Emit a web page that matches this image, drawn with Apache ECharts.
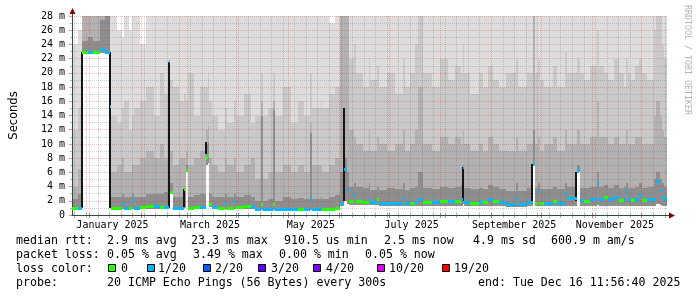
<!DOCTYPE html>
<html><head><meta charset="utf-8">
<script src="https://cdn.jsdelivr.net/npm/echarts@6/dist/echarts.min.js"></script>
<style>html,body{margin:0;padding:0;background:#fff}#c{width:697px;height:297px}</style>
</head><body><div id="c"></div>
<script>
// ---- time axis: days since graph start (Dec 21 2024 11:56:40), 360-day window
const SPAN = 360;
const Y_MAX = 28;

// ---- sample positions (days since start)
const days = [0.0, 3.6, 6.0, 9.6, 12.6, 16.8, 19.8, 22.8, 23.7, 27.0,
  30.0, 31.2, 34.2, 36.6, 37.8, 41.4, 45.0, 49.8, 53.4, 55.8,
  58.5, 59.4, 60.9, 64.8, 67.8, 68.7, 69.9, 73.8, 77.4, 81.0,
  82.2, 83.1, 84.6, 88.2, 92.4, 93.6, 97.8, 99.0, 103.8, 108.0,
  111.0, 114.6, 115.5, 118.8, 121.8, 122.7, 127.8, 132.6, 136.8, 140.4,
  144.3, 145.2, 150.6, 151.5, 155.4, 159.0, 162.0, 164.4, 166.2, 167.4,
  170.4, 171.6, 175.8, 179.4, 180.6, 184.8, 186.0, 190.8, 195.6, 200.4,
  201.6, 204.6, 207.6, 209.4, 212.4, 217.8, 222.6, 227.4, 231.6, 235.2,
  236.4, 237.3, 240.6, 246.0, 248.4, 251.4, 255.0, 258.6, 262.8, 268.8,
  270.0, 275.4, 278.7, 280.2, 282.0, 282.9, 285.6, 291.0, 293.4, 298.5,
  299.4, 305.4, 306.6, 307.5, 309.6, 313.2, 317.7, 318.6, 321.6, 324.6,
  328.2, 331.2, 334.2, 335.4, 336.6, 338.4, 340.8, 343.2, 345.0, 348.0,
  352.2, 353.4, 355.8, 357.0, 358.2];

// ---- median rtt (ms)
const medianMs = [1.0, 1.0, 23.0, 23.0, 23.0, 23.3, 23.0, 15.3, 1.0, 1.0,
  1.7, 1.0, 1.0, 2.1, 1.0, 1.1, 1.2, 1.2, 1.1, 1.1,
  21.7, 3.2, 1.0, 1.0, 3.7, 6.4, 1.0, 1.1, 1.1, 8.1,
  8.5, 1.6, 1.1, 1.0, 1.7, 1.0, 2.0, 1.1, 1.2, 1.2,
  0.85, 1.5, 0.85, 0.85, 1.5, 0.85, 0.85, 0.85, 0.9, 0.9,
  2.25, 0.85, 1.5, 0.9, 0.9, 1.0, 1.7, 6.5, 3.6, 2.0,
  2.8, 1.9, 1.8, 2.3, 1.8, 2.2, 1.7, 1.7, 1.7, 2.4,
  1.7, 1.7, 1.8, 2.2, 1.8, 1.8, 1.9, 1.9, 2.0, 2.2,
  6.75, 1.8, 1.7, 1.8, 1.8, 2.3, 2.0, 1.8, 1.55, 2.4,
  1.6, 1.8, 7.2, 1.7, 3.4, 1.7, 1.7, 1.9, 1.7, 3.1,
  2.4, 6.2, 6.45, 2.1, 2.0, 2.2, 4.5, 2.2, 2.6, 2.2,
  2.6, 2.1, 2.2, 3.4, 2.2, 2.1, 2.2, 2.8, 2.1, 2.2,
  2.2, 4.8, 3.5, 2.6, 2.3];

// ---- lost pings out of 20
const lossCount = [0, 1, 0, 1, 0, 1, 1, 1, 0, 0,
  1, 1, 0, 1, 1, 0, 0, 1, 0, 1,
  1, 0, 1, 1, 0, 0, 0, 0, 1, 0,
  0, 0, 1, 0, 1, 0, 1, 0, 0, 1,
  1, 0, 1, 1, 0, 1, 1, 1, 0, 1,
  1, 1, 1, 0, 0, 0, 1, 1, 1, 0,
  1, 0, 0, 1, 1, 0, 1, 1, 1, 1,
  1, 0, 1, 1, 0, 1, 0, 1, 0, 1,
  1, 1, 0, 1, 0, 1, 0, 1, 1, 1,
  1, 1, 1, 0, 1, 0, 1, 0, 1, 1,
  1, 1, 1, 1, 0, 1, 1, 1, 0, 1,
  1, 0, 1, 1, 1, 0, 1, 1, 0, 1,
  1, 1, 1, 1, 1];

// ---- smoke: lowest ping and band upper edges (ms)
const smokeLow = [0.8, 0.8, 22.6, 22.6, 22.6, 22.8, 22.7, 1.0, 0.8, 0.8,
  0.8, 0.8, 0.8, 0.8, 0.8, 0.8, 0.9, 0.9, 0.9, 0.9,
  1.0, 3.0, 0.8, 0.8, 1.0, 6.0, 0.8, 0.8, 0.8, 7.0,
  7.3, 1.1, 0.8, 0.8, 0.8, 0.8, 0.8, 0.8, 0.8, 0.8,
  0.6, 0.7, 0.6, 0.6, 0.7, 0.6, 0.6, 0.6, 0.6, 0.6,
  0.7, 0.6, 0.6, 0.6, 0.6, 0.7, 1.2, 2.0, 1.5, 1.4,
  1.4, 1.4, 1.4, 1.4, 1.4, 1.4, 1.3, 1.3, 1.3, 1.3,
  1.3, 1.3, 1.3, 1.3, 1.3, 1.3, 1.3, 1.3, 1.3, 1.3,
  1.5, 1.3, 1.2, 1.2, 1.2, 1.2, 1.2, 1.2, 1.1, 1.1,
  1.1, 1.2, 7.0, 1.2, 1.3, 1.2, 1.2, 1.2, 1.2, 1.3,
  1.3, 5.9, 6.0, 1.3, 1.3, 1.3, 1.4, 1.3, 1.3, 1.3,
  1.3, 1.3, 1.3, 1.3, 1.3, 1.3, 1.3, 1.3, 1.3, 1.3,
  1.3, 1.5, 1.4, 1.3, 1.3];
const smokeDark = [2.2, 3.0, 24.5, 25.0, 24.5, 27.5, 30.0, 3.0, 2.5, 2.5,
  3.0, 2.5, 2.5, 3.0, 2.6, 2.5, 3.0, 3.0, 3.0, 3.2,
  4.0, 4.5, 2.5, 2.6, 3.7, 7.0, 2.5, 2.8, 3.0, 10.0,
  10.3, 3.0, 2.5, 2.6, 3.0, 2.5, 3.0, 2.5, 2.8, 2.6,
  2.0, 14.0, 2.0, 2.2, 14.8, 2.0, 2.5, 2.2, 2.4, 2.2,
  11.5, 2.3, 2.5, 2.3, 2.5, 2.8, 6.0, 8.0, 6.0, 4.0,
  4.5, 4.0, 3.8, 4.5, 3.5, 4.0, 3.5, 3.8, 3.6, 4.5,
  3.5, 3.8, 4.0, 6.0, 3.8, 3.6, 4.0, 3.8, 4.0, 4.2,
  7.0, 3.8, 3.6, 3.8, 3.6, 4.2, 4.0, 3.6, 3.4, 4.5,
  3.4, 3.8, 12.0, 3.8, 4.5, 3.6, 3.6, 4.0, 3.6, 4.5,
  4.0, 7.0, 7.0, 3.8, 3.8, 4.0, 6.0, 4.0, 4.2, 3.8,
  4.2, 3.8, 4.0, 4.5, 3.8, 3.8, 4.0, 4.5, 3.8, 4.0,
  5.0, 6.0, 5.0, 4.5, 4.0];
const smokeDarkMid = [4, 6.5, 30, 30, 30, 30, 30, 6, 6, 7,
  8, 6, 6, 7, 7, 8, 9, 8, 10, 8,
  9, 9, 7, 8, 8, 9, 7, 8, 9, 12,
  12.5, 8, 7, 6, 8, 7, 8, 6, 7, 8,
  5, 16, 5, 6, 16, 6, 7, 6, 7, 6,
  13, 7, 7, 6, 7, 8, 30, 30, 30, 12,
  11, 10, 9, 12, 9, 11, 10, 9, 10, 12,
  9, 10, 12, 18, 10, 9, 11, 10, 11, 10,
  12, 10, 9, 10, 9, 11, 10, 9, 9, 11,
  9, 10, 30, 10, 11, 9, 10, 11, 9, 12,
  10, 12, 12, 10, 10, 11, 16, 11, 11, 10,
  11, 10, 10, 12, 10, 10, 11, 11, 10, 10,
  14, 16, 14, 12, 11];
const smokeMid = [12, 15, 30, 30, 30, 30, 30, 14, 14, 13,
  15, 16, 12, 14, 15, 16, 18, 14, 20, 17,
  18, 19, 18, 16, 17, 16, 20, 14, 18, 18,
  20, 16, 14, 12, 15, 13, 16, 14, 17, 13,
  14, 20, 14, 15, 20, 14, 18, 13, 16, 14,
  20, 15, 16, 15, 17, 18, 30, 30, 30, 22,
  24, 20, 18, 22, 19, 21, 18, 20, 17, 22,
  18, 20, 24, 30, 20, 18, 22, 19, 21, 20,
  24, 20, 17, 20, 18, 21, 19, 18, 20, 22,
  18, 20, 30, 20, 22, 19, 18, 21, 18, 23,
  20, 22, 22, 20, 19, 21, 26, 21, 20, 19,
  22, 20, 18, 22, 20, 19, 21, 22, 20, 19,
  26, 30, 28, 24, 22];
const smokeHigh = [24, 26, 30, 30, 30, 30, 30, 30, 30, 26,
  25, 30, 26, 30, 30, 24, 30, 30, 30, 30,
  30, 30, 30, 30, 30, 30, 30, 30, 30, 30,
  30, 30, 30, 30, 30, 30, 30, 30, 30, 30,
  30, 30, 30, 30, 30, 30, 30, 30, 30, 30,
  30, 30, 30, 30, 27, 30, 30, 30, 30, 30,
  30, 30, 30, 30, 30, 30, 30, 30, 30, 30,
  30, 30, 30, 30, 30, 30, 30, 30, 30, 30,
  30, 30, 28, 30, 30, 30, 30, 30, 30, 30,
  30, 30, 30, 30, 30, 30, 30, 30, 30, 30,
  30, 30, 30, 30, 30, 30, 30, 30, 30, 30,
  30, 30, 30, 30, 30, 30, 30, 30, 30, 30,
  30, 30, 30, 30, 30];

// ---- very dense (black) smoke columns at sudden jumps
const spikeDays = [6.0, 22.8, 58.5, 67.8, 81.0, 164.4, 236.4, 278.4, 305.1];
const spikeLow = [1.0, 1.0, 1.0, 1.1, 8.6, 2.0, 1.9, 1.8, 2.0];
const spikeHigh = [23.0, 23.0, 21.5, 3.6, 10.3, 15.0, 6.7, 7.2, 6.0];

// ---- tick labels
const yTickLabels = ['0', '2 m', '4 m', '6 m', '8 m', '10 m', '12 m', '14 m', '16 m', '18 m', '20 m', '22 m', '24 m', '26 m', '28 m'];
const monthLabels = ['January 2025', 'March 2025', 'May 2025', 'July 2025', 'September 2025', 'November 2025'];
const monthLabelMonths = [0, 2, 4, 6, 8, 10];

// ---- legend
const lossThresholds = [0, 1, 2, 3, 4, 10, 19];
const lossLegend = ['0', '1/20', '2/20', '3/20', '4/20', '10/20', '19/20'];
const lossColors = ['#26ff00', '#00b8ff', '#0059ff', '#5e00ff', '#7e00ff', '#dd00ff', '#ff0000'];
const rttStats = ['2.9 ms avg', '23.3 ms max', '910.5 us min', '2.5 ms now', '4.9 ms sd', '600.9 m am/s'];
const lossStats = ['0.05 % avg', '3.49 % max', '0.00 % min', '0.05 % now'];
const probeText = '20 ICMP Echo Pings (56 Bytes) every 300s';
const endText = 'end: Tue Dec 16 11:56:40 2025';

// ---- helpers
const START = Date.UTC(2024, 11, 21, 11, 56, 40);
const dayOf = (y, m, d) => (Date.UTC(y, m, d) - START) / 864e5;
const monthStarts = [];
for (let m = 0; m < 12; m++) monthStarts.push(dayOf(2025, m, 1));
const weekStarts = [];
for (let d = dayOf(2024, 11, 23); d < SPAN; d += 7) {
  if (!monthStarts.some(ms => Math.abs(ms - d) < 1)) weekStarts.push(d);
}
const monthLabelDays = monthLabelMonths.map(m => dayOf(2025, m, 1) + 14);
function lossColor(n) {
  let c = lossColors[0];
  lossThresholds.forEach((t, i) => { if (n >= t) c = lossColors[i]; });
  return c;
}
const nextDay = i => (i + 1 < days.length ? days[i + 1] : SPAN);

const MONO = '"DejaVu Sans Mono", monospace';
const smokeColors = ['#8e8e8e', '#b2b2b2', '#c9c9c9', '#dddddd'];
const MAJOR_GRID = 'rgba(255,0,0,0.26)';
const MINOR_GRID = 'rgba(110,110,110,0.32)';

const smokeData = days.map((d, i) => [d, nextDay(i), smokeLow[i], smokeDark[i], smokeDarkMid[i], smokeMid[i], smokeHigh[i]]);
const medianData = days.map((d, i) => [d, nextDay(i), medianMs[i], lossCount[i]]);
const spikeData = spikeDays.map((d, i) => [d, spikeLow[i], spikeHigh[i]]);
const vGridData = monthStarts.map(d => [d, 1]).concat(weekStarts.map(d => [d, 0]));
const xLabelData = monthLabelDays.map((d, i) => [d, 0, i]);

const chart = echarts.init(document.getElementById('c'), null, { renderer: 'canvas' });
chart.setOption({
  animation: false,
  backgroundColor: '#fff',
  grid: { left: 67, right: 30, top: 16, bottom: 82 },
  xAxis: {
    type: 'value', min: 0, max: SPAN, z: 6,
    axisLine: { show: true, lineStyle: { color: '#2c4d43' } },
    axisTick: { show: false }, axisLabel: { show: false }, splitLine: { show: false }
  },
  yAxis: {
    type: 'value', min: 0, max: Y_MAX, interval: 2, z: 3,
    axisLine: { show: true, lineStyle: { color: '#2c4d43' } },
    axisTick: { show: true, length: 3, lineStyle: { color: 'rgba(255,0,0,0.45)' } },
    minorTick: { show: true, splitNumber: 2, length: 2, lineStyle: { color: 'rgba(120,120,120,0.55)' } },
    axisLabel: { formatter: v => yTickLabels[Math.round(v / 2)], fontFamily: MONO, fontSize: 10, color: '#000', margin: 7 },
    splitLine: { show: true, lineStyle: { color: MAJOR_GRID, type: [1, 1] } },
    minorSplitLine: { show: true, lineStyle: { color: MINOR_GRID, type: [1, 1] } },
    name: 'Seconds', nameLocation: 'middle', nameGap: 52,
    nameTextStyle: { fontFamily: '"DejaVu Sans", sans-serif', fontSize: 11.5, color: '#000' }
  },
  series: [
    {
      type: 'custom', name: 'smoke', z: 1, clip: true, data: smokeData,
      encode: { x: [0, 1], y: [2, 6] },
      renderItem: function (params, api) {
        const xa = Math.round(api.coord([api.value(0), 0])[0]);
        const xb = Math.round(api.coord([api.value(1), 0])[0]);
        const w = Math.max(1, xb - xa);
        const children = [];
        for (let k = 0; k < 4; k++) {
          const ya = Math.round(api.coord([0, api.value(2 + k)])[1]);
          const yb = Math.round(api.coord([0, api.value(3 + k)])[1]);
          if (ya - yb > 0) children.push({ type: 'rect', shape: { x: xa, y: yb, width: w, height: ya - yb }, style: { fill: smokeColors[k] } });
        }
        return { type: 'group', children: children };
      }
    },
    {
      type: 'custom', name: 'vgrid', z: 2, clip: false, data: vGridData,
      encode: { x: 0, y: 1 },
      renderItem: function (params, api) {
        const x = Math.round(api.coord([api.value(0), 0])[0]) + 0.5;
        const y0 = api.coord([0, 0])[1];
        const y1 = api.coord([0, Y_MAX])[1];
        const major = api.value(1) === 1;
        return { type: 'group', children: [
          { type: 'line', shape: { x1: x, y1: y0, x2: x, y2: y1 }, style: { stroke: major ? MAJOR_GRID : MINOR_GRID, lineWidth: 1, lineDash: [1, 1] } },
          { type: 'line', shape: { x1: x, y1: y0 - 2, x2: x, y2: y0 + 3 }, style: { stroke: major ? '#d07070' : '#b0b0b0', lineWidth: 1 } }
        ] };
      }
    },
    {
      type: 'custom', name: 'spikes', z: 4, clip: true, data: spikeData,
      encode: { x: 0, y: [1, 2] },
      renderItem: function (params, api) {
        const x = Math.round(api.coord([api.value(0), 0])[0]);
        const ya = Math.round(api.coord([0, api.value(1)])[1]);
        const yb = Math.round(api.coord([0, api.value(2)])[1]);
        return { type: 'rect', shape: { x: x - 1, y: yb, width: 2, height: ya - yb }, style: { fill: '#151515' } };
      }
    },
    {
      type: 'custom', name: 'median', z: 5, clip: true, data: medianData,
      encode: { x: [0, 1], y: 2 },
      renderItem: function (params, api) {
        const xa = Math.round(api.coord([api.value(0), 0])[0]);
        const xb = Math.round(api.coord([api.value(1), 0])[0]);
        const y = Math.round(api.coord([0, api.value(2)])[1]);
        return { type: 'rect', shape: { x: xa, y: y - 1, width: Math.max(1, xb - xa), height: 3 }, style: { fill: lossColor(api.value(3)) } };
      }
    },
    {
      type: 'custom', name: 'xlabels', z: 6, clip: false, data: xLabelData,
      encode: { x: 0, y: 1 },
      renderItem: function (params, api) {
        const p = api.coord([api.value(0), 0]);
        return { type: 'text', x: p[0], y: p[1] + 10, style: { text: monthLabels[api.value(2)], fill: '#000', fontFamily: MONO, fontSize: 10, align: 'center', verticalAlign: 'middle' } };
      }
    }
  ]
});

// ---- decorations: axis arrows, legend block, watermark
const o = chart.convertToPixel({ gridIndex: 0 }, [0, 0]);
const xe = chart.convertToPixel({ gridIndex: 0 }, [SPAN, 0]);
const ye = chart.convertToPixel({ gridIndex: 0 }, [0, Y_MAX]);
const gx = Math.round(o[0]) + 0.5, gy = Math.round(o[1]) + 0.5;
const graphics = [];
graphics.push({ type: 'line', shape: { x1: xe[0], y1: gy, x2: xe[0] + 4, y2: gy }, style: { stroke: '#2c4d43', lineWidth: 1 } });
graphics.push({ type: 'polygon', shape: { points: [[xe[0] + 2, gy - 3], [xe[0] + 8, gy], [xe[0] + 2, gy + 3]] }, style: { fill: '#7f0000' } });
graphics.push({ type: 'line', shape: { x1: gx, y1: ye[1], x2: gx, y2: ye[1] - 4 }, style: { stroke: '#2c4d43', lineWidth: 1 } });
graphics.push({ type: 'polygon', shape: { points: [[gx - 3, ye[1] - 2], [gx, ye[1] - 8], [gx + 3, ye[1] - 2]] }, style: { fill: '#7f0000' } });

function txt(s, x, y, extra) {
  return Object.assign({ type: 'text', x: x, y: y, style: { text: s, fill: '#000', fontFamily: MONO, fontSize: 11.6, verticalAlign: 'middle' } }, extra || {});
}
const L1 = 241, L2 = 255, L3 = 269, L4 = 283;
graphics.push(txt('median rtt:', 16, L1));
[107, 191, 284, 384, 473, 551].forEach((x, i) => graphics.push(txt(rttStats[i], x, L1)));
graphics.push(txt('packet loss:', 16, L2));
[107, 193, 279, 365].forEach((x, i) => graphics.push(txt(lossStats[i], x, L2)));
graphics.push(txt('loss color:', 16, L3));
const boxX = [108, 147, 203, 258, 313, 377, 442];
const labX = [121, 158, 215, 271, 326, 389, 454];
lossLegend.forEach((s, i) => {
  graphics.push({ type: 'rect', shape: { x: boxX[i] + 0.5, y: L3 - 4.5, width: 7, height: 7 }, style: { fill: lossColors[i], stroke: '#000', lineWidth: 1 } });
  graphics.push(txt(s, labX[i], L3));
});
graphics.push(txt('probe:', 16, L4));
graphics.push(txt(probeText, 107, L4));
graphics.push(txt(endText, 478, L4));
graphics.push({ type: 'text', x: 687, y: 60, rotation: -Math.PI / 2, style: { text: 'RRDTOOL / TOBI OETIKER', fill: '#b4b4b4', fontFamily: MONO, fontSize: 8.3, align: 'center', verticalAlign: 'middle' } });

chart.setOption({ graphic: graphics });
</script>
</body></html>
